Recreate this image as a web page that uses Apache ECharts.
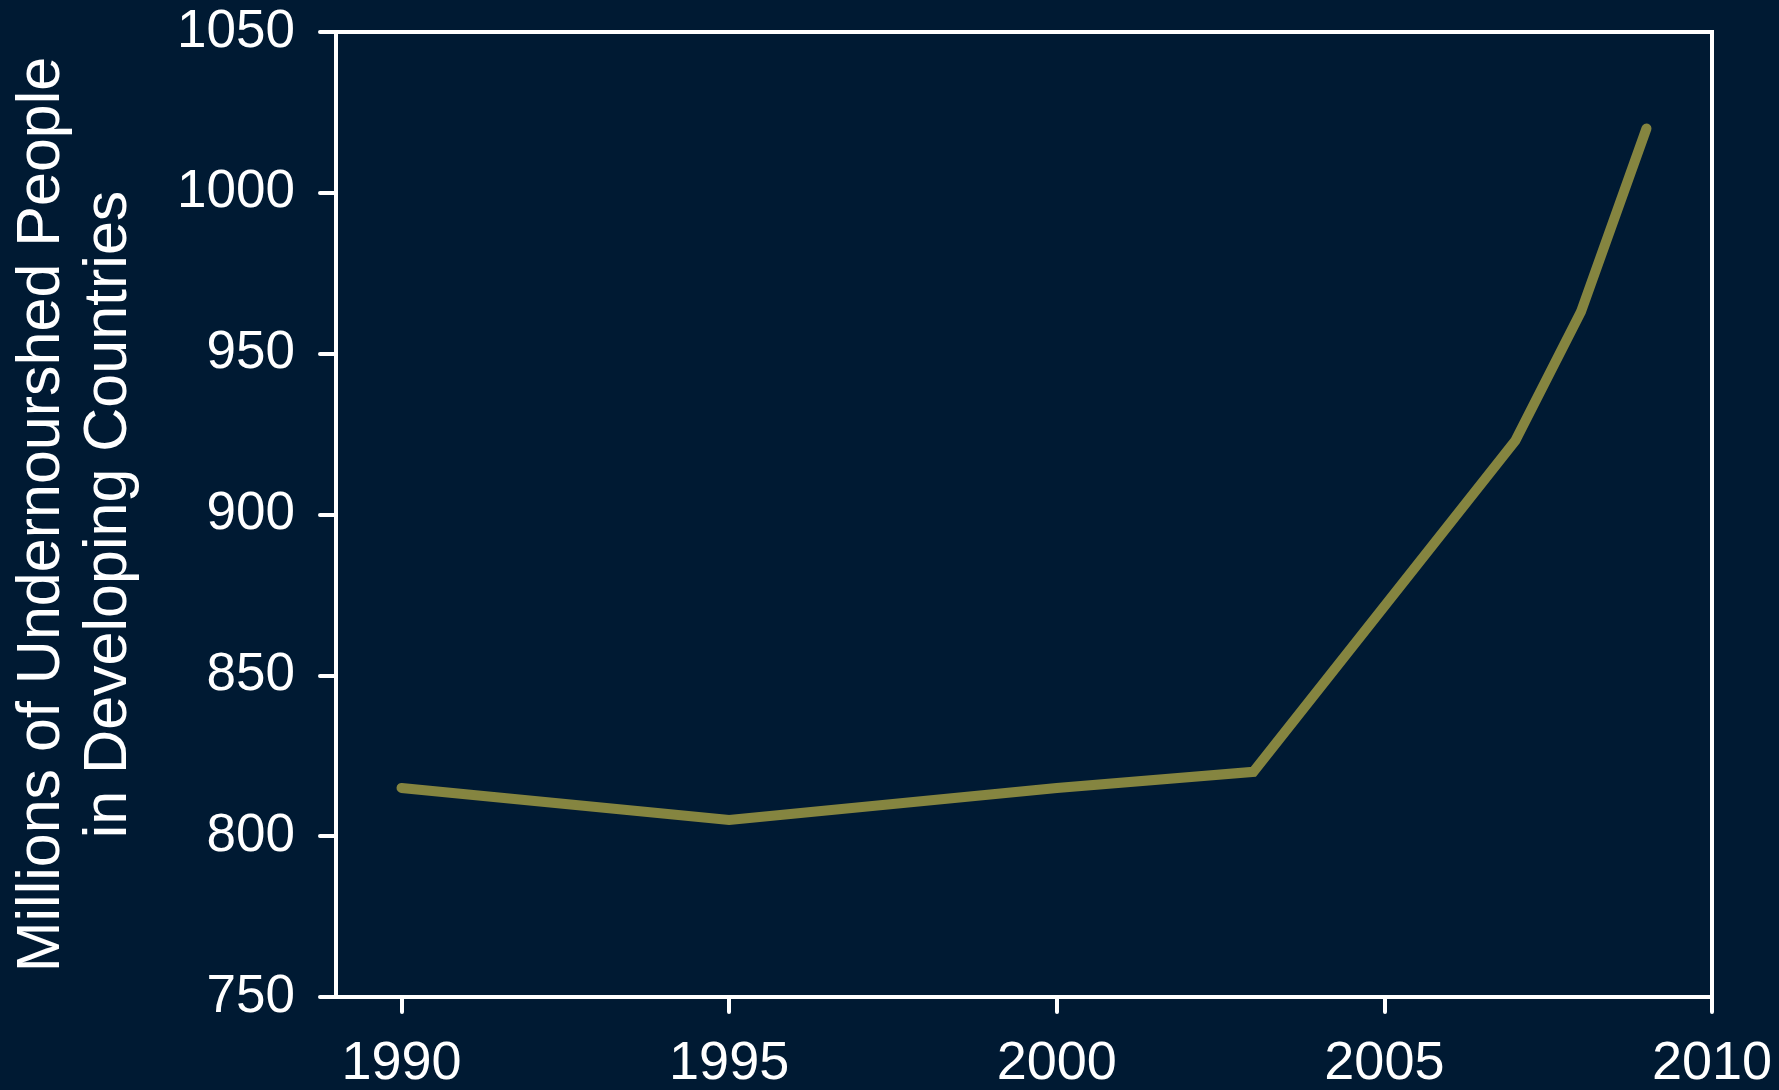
<!DOCTYPE html>
<html>
<head>
<meta charset="utf-8">
<script src="https://cdn.jsdelivr.net/npm/echarts@6/dist/echarts.min.js"></script>
<style>
  html, body { margin: 0; padding: 0; background: #001a33; }
  #chart { width: 1779px; height: 1090px; }
</style>
</head>
<body>
<div id="chart"></div>
<script>
// Data
const years = [1990, 1995, 2000, 2003, 2007, 2008, 2009];
const undernourished = [815, 805, 815, 820, 923, 963, 1020];
const xTickValues = [1990, 1995, 2000, 2005, 2010];
const yAxisTitle = 'Millions of Undernourshed People\nin Developing Countries';

const FONT = "'Liberation Sans', Arial, sans-serif";
const chart = echarts.init(document.getElementById('chart'), null, { renderer: 'canvas' });

chart.setOption({
  backgroundColor: '#001a33',
  animation: false,
  grid: {
    left: 336, right: 67, top: 32, bottom: 93,
    show: true, borderColor: '#ffffff', borderWidth: 4,
    backgroundColor: 'transparent',
    containLabel: false,
    outerBoundsMode: 'none'
  },
  xAxis: {
    type: 'value',
    min: 1989, max: 2010,
    splitLine: { show: false },
    axisLine: { show: true, lineStyle: { color: '#ffffff', width: 4 } },
    axisTick: { show: true, length: 15, customValues: xTickValues,
      lineStyle: { color: '#ffffff', width: 4, cap: 'round' } },
    axisLabel: { show: true, customValues: xTickValues, margin: 40,
      color: '#ffffff', fontSize: 54, fontFamily: FONT,
      formatter: v => String(v) }
  },
  yAxis: {
    type: 'value',
    min: 750, max: 1050, interval: 50,
    splitLine: { show: false },
    axisLine: { show: true, lineStyle: { color: '#ffffff', width: 4 } },
    axisTick: { show: true, length: 16, lineStyle: { color: '#ffffff', width: 4, cap: 'round' } },
    axisLabel: { margin: 41, color: '#ffffff', fontSize: 53, fontFamily: FONT,
      formatter: v => String(v) },
    name: yAxisTitle,
    nameLocation: 'middle',
    nameRotate: 90,
    nameGap: 193,
    nameTextStyle: { color: '#ffffff', fontSize: 61, fontFamily: FONT, lineHeight: 67, align: 'center' }
  },
  series: [{
    type: 'line',
    data: years.map((y, i) => [y, undernourished[i]]),
    symbol: 'none',
    lineStyle: { color: '#858540', width: 10, cap: 'round', join: 'miter' }
  }]
});
</script>
</body>
</html>
